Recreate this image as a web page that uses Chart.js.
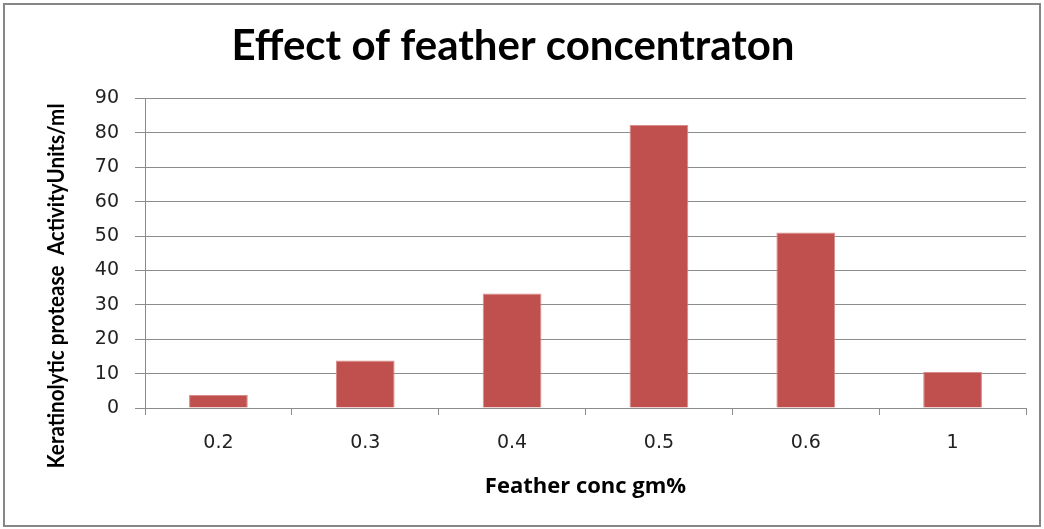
<!DOCTYPE html>
<html>
<head>
<meta charset="utf-8">
<script src="https://cdn.jsdelivr.net/npm/chart.js@4/dist/chart.umd.min.js"></script>
<style>
  body { margin: 0; background: #fff; }
  #wrap { width: 1044px; height: 529px; }
</style>
</head>
<body>
<div id="wrap"><canvas id="chart"></canvas></div>
<script>
// data
const concLabels = ['0.2', '0.3', '0.4', '0.5', '0.6', '1'];
const activity = [3.8, 13.8, 33.3, 82.3, 51.0, 10.5];
const chartTitle = 'Effect of feather concentraton';
const xTitle = 'Feather conc gm%';
const yTitle = 'Keratinolytic protease  ActivityUnits/ml';

const gridGray = '#8c8c8c';

// outer frame, like the spreadsheet chart border
const framePlugin = {
    id: 'frame',
    beforeDraw(chart) {
        const c = chart.ctx;
        c.save();
        c.fillStyle = '#fff';
        c.fillRect(0, 0, chart.width, chart.height);
        c.strokeStyle = '#868686';
        c.lineWidth = 2;
        c.strokeRect(4, 4, chart.width - 8, chart.height - 7);
        c.restore();
    }
};

// y title is longer than the axis, so place it by hand (Excel centres it on the whole chart)
const yTitlePlugin = {
    id: 'yTitle',
    afterDraw(chart) {
        const c = chart.ctx;
        c.save();
        c.font = 'bold 22px Lato';
        const w = c.measureText(yTitle).width;
        c.translate(57, 286);
        c.rotate(-Math.PI / 2);
        c.scale(365 / w, 1);
        c.textAlign = 'center';
        c.textBaseline = 'middle';
        c.fillStyle = '#000';
        c.fillText(yTitle, 0, 0);
        c.restore();
    }
};

const ctx = document.getElementById('chart').getContext('2d');
const chart = new Chart(ctx, {
    type: 'bar',
    data: {
        labels: concLabels,
        datasets: [{
            label: 'Activity',
            data: activity,
            backgroundColor: '#c0504d',
            borderColor: '#d98b89',
            borderWidth: 1,
            borderSkipped: 'bottom',
            barPercentage: 0.4,
            categoryPercentage: 1.0
        }]
    },
    options: {
        responsive: true,
        maintainAspectRatio: false,
        animation: false,
        devicePixelRatio: 1,
        layout: { padding: { left: 0, right: 18, top: 0, bottom: 0 } },
        plugins: {
            legend: { display: false },
            tooltip: { enabled: false },
            title: {
                display: true,
                text: chartTitle,
                color: '#000',
                font: { family: 'Lato', size: 42, weight: 'bold' },
                padding: { top: 21, bottom: 27 }
            }
        },
        scales: {
            x: {
                grid: {
                    drawOnChartArea: false,
                    drawTicks: true,
                    tickLength: 7,
                    color: gridGray
                },
                border: { color: gridGray, width: 1 },
                ticks: {
                    color: '#222',
                    font: { family: 'DejaVu Sans', size: 19 },
                    padding: 17
                },
                title: {
                    display: true,
                    text: xTitle,
                    color: '#000',
                    font: { family: 'Open Sans', size: 22, weight: 'bold' },
                    padding: { top: 0, bottom: 29 }
                },
                afterFit(scale) { scale.height = 121; }
            },
            y: {
                min: 0,
                max: 90,
                grid: {
                    color: gridGray,
                    tickLength: 10
                },
                border: { color: gridGray, width: 1 },
                ticks: {
                    stepSize: 10,
                    color: '#222',
                    font: { family: 'DejaVu Sans', size: 19 },
                    padding: 16
                },
                afterFit(scale) { scale.width = 145; }
            }
        }
    },
    plugins: [framePlugin, yTitlePlugin]
});
</script>
</body>
</html>
